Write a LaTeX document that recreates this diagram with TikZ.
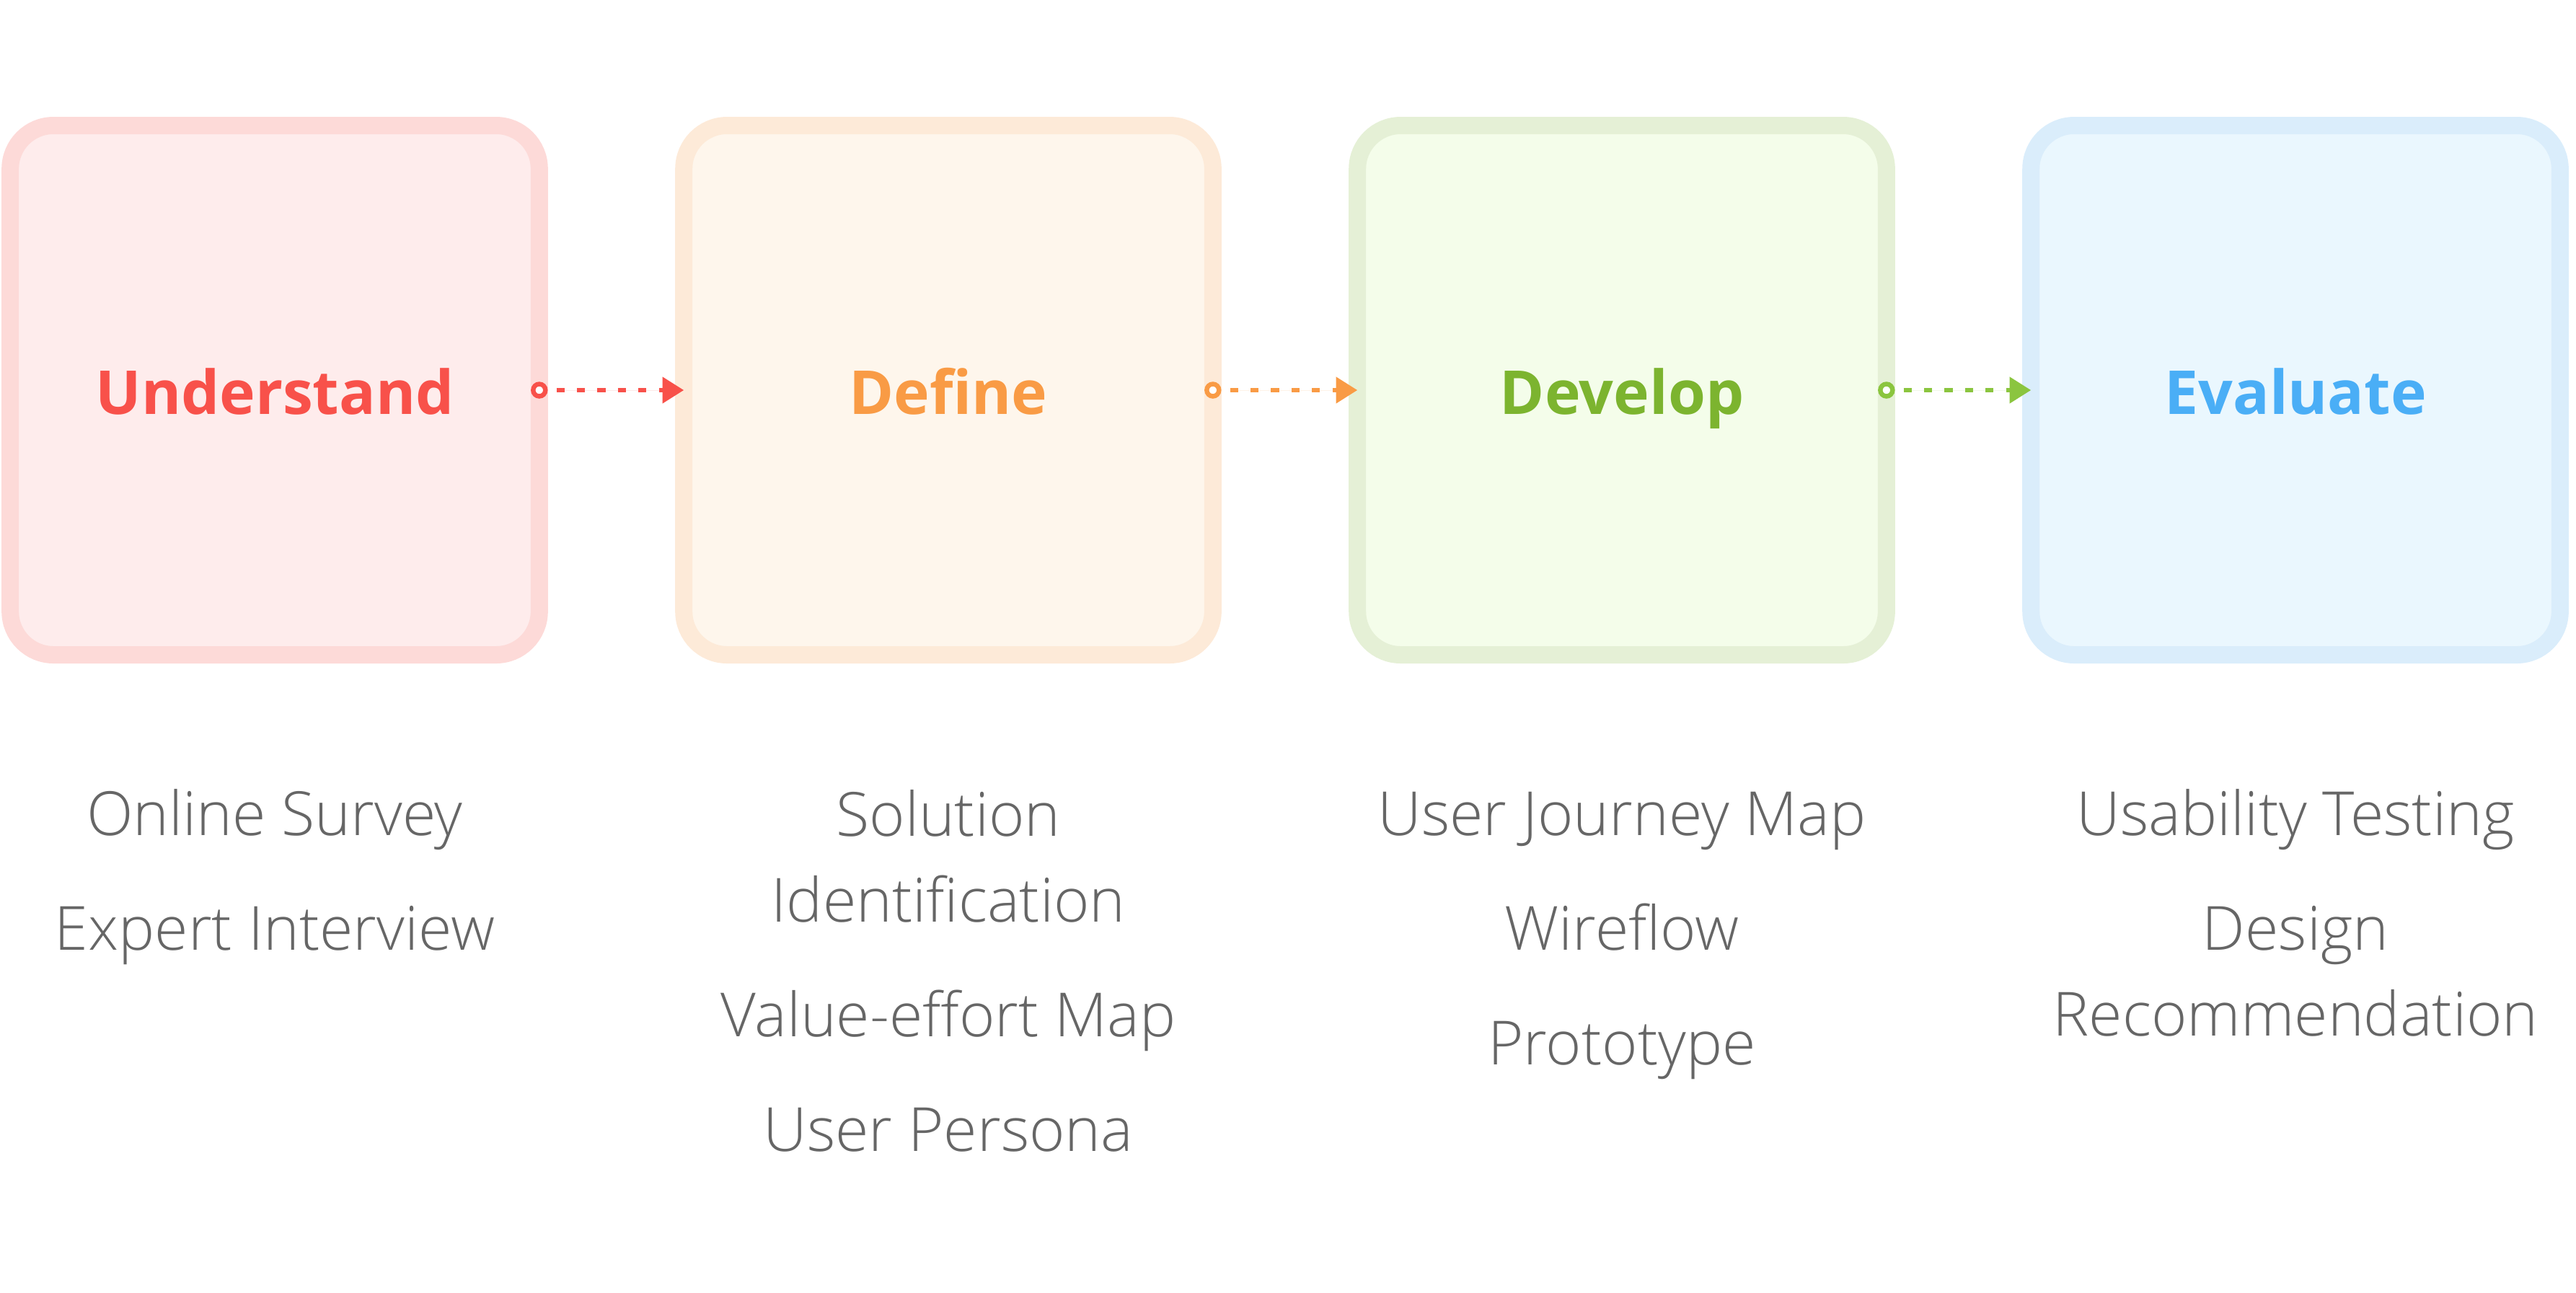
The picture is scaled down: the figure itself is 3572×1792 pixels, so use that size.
\documentclass[tikz,border=0pt]{standalone}
\usepackage{fontspec}
\setmainfont{Open Sans}
\newfontfamily\lightfont{Open Sans Light}
\usetikzlibrary{arrows.meta}
\definecolor{redT}{HTML}{F8514A}\definecolor{redB}{HTML}{FDDAD8}\definecolor{redF}{HTML}{FEECEC}
\definecolor{orgT}{HTML}{F99B45}\definecolor{orgB}{HTML}{FDEAD8}\definecolor{orgF}{HTML}{FEF6EC}
\definecolor{grnT}{HTML}{7CB42F}\definecolor{grnB}{HTML}{E5F0D6}\definecolor{grnF}{HTML}{F4FDEA}\definecolor{grnA}{HTML}{8BC53F}
\definecolor{bluT}{HTML}{4AAEF6}\definecolor{bluB}{HTML}{DAEDFB}\definecolor{bluF}{HTML}{EAF7FE}
\definecolor{itemgrey}{HTML}{666666}
\tikzset{
  phasebox/.style={rectangle, rounded corners=15pt, line width=6pt, minimum width=183.4pt, minimum height=183.5pt, inner sep=0pt, outer sep=0pt},
  phasetitle/.style={anchor=base, inner sep=0pt, font=\fontsize{21}{25}\selectfont\bfseries},
  itemtext/.style={anchor=base, inner sep=0pt, text=itemgrey, font=\lightfont\fontsize{21.1}{29.75}\selectfont},
  startdot/.style={circle, line width=1.6pt, fill=white, minimum size=4.25pt, inner sep=0pt},
  flow/.style={line width=1.45pt, dash pattern=on 2.8pt off 4.3pt, shorten <=3pt, -{Triangle[length=7.4pt,width=8.9pt]}}
}
\begin{document}
\begin{tikzpicture}[x=0.25pt, y=-0.25pt]
\useasboundingbox (0,0) rectangle (3572,1792);
% boxes
\node[phasebox, draw=redB, fill=redF] (b1) at (381,541) {};
\node[phasebox, draw=orgB, fill=orgF] (b2) at (1315,541) {};
\node[phasebox, draw=grnB, fill=grnF] (b3) at (2249,541) {};
\node[phasebox, draw=bluB, fill=bluF] (b4) at (3183,541) {};
% titles
\node[phasetitle, text=redT] (t1) at (381,574) {Understand};
\node[phasetitle, text=orgT] (t2) at (1315,574) {Define};
\node[phasetitle, text=grnT] (t3) at (2249,574) {Develop};
\node[phasetitle, text=bluT] (t4) at (3183,574) {Evaluate};
% connectors
\node[startdot, draw=redT] (c1) at (b1.east) {};
\node[startdot, draw=orgT] (c2) at (b2.east) {};
\node[startdot, draw=grnA] (c3) at (b3.east) {};
\draw[flow, draw=redT, fill=redT] (c1.east) -- (b2.west);
\draw[flow, draw=orgT, fill=orgT] (c2.east) -- (b3.west);
\draw[flow, draw=grnA, fill=grnA] (c3.east) -- (b4.west);
% items
\node[itemtext] (u1) at (381,1158) {Online Survey};
\node[itemtext] (u2) at (381,1317) {Expert Interview};
\node[itemtext] (d1a) at (1315,1159) {Solution};
\node[itemtext] (d1b) at (1315,1278) {Identification};
\node[itemtext] (d2) at (1315,1437) {Value-effort Map};
\node[itemtext] (d3) at (1315,1596) {User Persona};
\node[itemtext] (v1) at (2249,1158) {User Journey Map};
\node[itemtext] (v2) at (2249,1317) {Wireflow};
\node[itemtext] (v3) at (2249,1476) {Prototype};
\node[itemtext] (e1) at (3183,1158) {Usability Testing};
\node[itemtext] (e2a) at (3183,1317) {Design};
\node[itemtext] (e2b) at (3183,1436) {Recommendation};
\end{tikzpicture}
\end{document}
